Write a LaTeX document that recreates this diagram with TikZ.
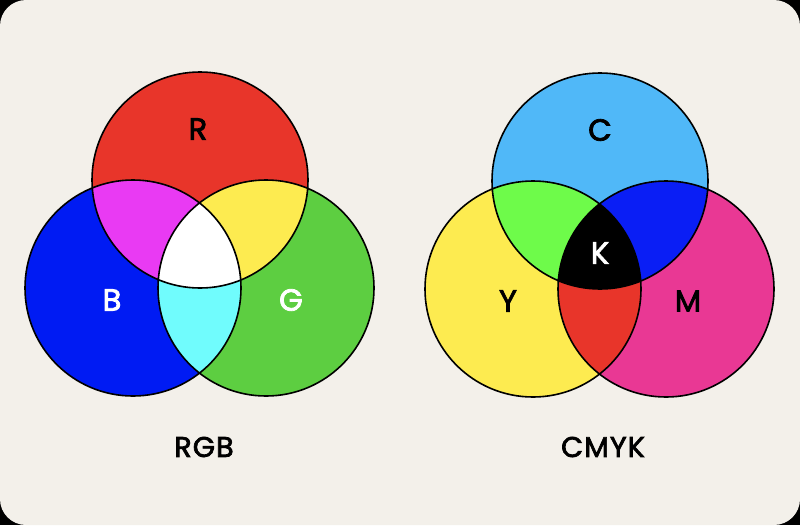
\documentclass[tikz,border=0pt]{standalone}
\usepackage{fontspec}
\newfontfamily\labelfont{Poppins}[FakeBold=2.6, LetterSpace=4]
\usetikzlibrary{positioning}

\definecolor{paper}{HTML}{F3F0EA}
\definecolor{rgbRed}{HTML}{E8352A}
\definecolor{rgbBlue}{HTML}{001BF3}
\definecolor{rgbGreen}{HTML}{5DCE41}
\definecolor{rgbMagenta}{HTML}{E93AF3}
\definecolor{rgbYellow}{HTML}{FDEB50}
\definecolor{rgbCyan}{HTML}{70FCFD}
\definecolor{cmyCyan}{HTML}{50B8F8}
\definecolor{cmyYellow}{HTML}{FDEB50}
\definecolor{cmyMagenta}{HTML}{E93894}
\definecolor{cmyGreen}{HTML}{6EFB4A}
\definecolor{cmyBlue}{HTML}{0A1EF5}
\definecolor{cmyRed}{HTML}{E8352A}

\def\circR{(200,180) circle (108)}
\def\circB{(133,288) circle (108)}
\def\circG{(266,288) circle (108)}
\def\circC{(600,181) circle (108)}
\def\circY{(533,289) circle (108)}
\def\circM{(666,289) circle (108)}

\begin{document}
\begin{tikzpicture}[x=1pt, y=-1pt,
                outline/.style={draw=black, line width=1.6pt},
                letter/.style={font=\labelfont\fontsize{30.5}{32}\selectfont},
                caption/.style={font=\labelfont\fontsize{28.5}{30}\selectfont}
                ]

                % Background
                \fill[black] (0,0) rectangle (800,525);
                \fill[paper, rounded corners=26pt] (0,0) rectangle (800,525);

                % RGB circles
                \fill[rgbRed] \circR;
                \fill[rgbBlue] \circB;
                \fill[rgbGreen] \circG;
                \begin{scope}
                    \clip \circR;
                    \fill[rgbMagenta] \circB;
                    \fill[rgbYellow] \circG;
                \end{scope}
                \begin{scope}
                    \clip \circB;
                    \fill[rgbCyan] \circG;
                \end{scope}
                \begin{scope}
                    \clip \circR; \clip \circB;
                    \fill[white] \circG;
                \end{scope}
                \draw[outline] \circR \circB \circG;

                % CMYK circles
                \fill[cmyCyan] \circC;
                \fill[cmyYellow] \circY;
                \fill[cmyMagenta] \circM;
                \begin{scope}
                    \clip \circC;
                    \fill[cmyGreen] \circY;
                    \fill[cmyBlue] \circM;
                \end{scope}
                \begin{scope}
                    \clip \circY;
                    \fill[cmyRed] \circM;
                \end{scope}
                \begin{scope}
                    \clip \circC; \clip \circY;
                    \fill[black] \circM;
                \end{scope}
                \draw[outline] \circC \circY \circM;

                % Nodes
                \node[letter] (r) at (198,129) {R};
                \node[letter, white] (b) at (112,300) {B};
                \node[letter, white] (g) at (291,300) {G};
                \node[caption] (rgb) at (204,447) {RGB};

                \node[letter] (c) at (600,130) {C};
                \node[letter] (y) at (508,301) {Y};
                \node[letter] (m) at (688,301) {M};
                \node[letter, white] (k) at (600,253) {K};
                \node[caption] (cmyk) at (603,447) {CMYK};
\end{tikzpicture}
\end{document}
